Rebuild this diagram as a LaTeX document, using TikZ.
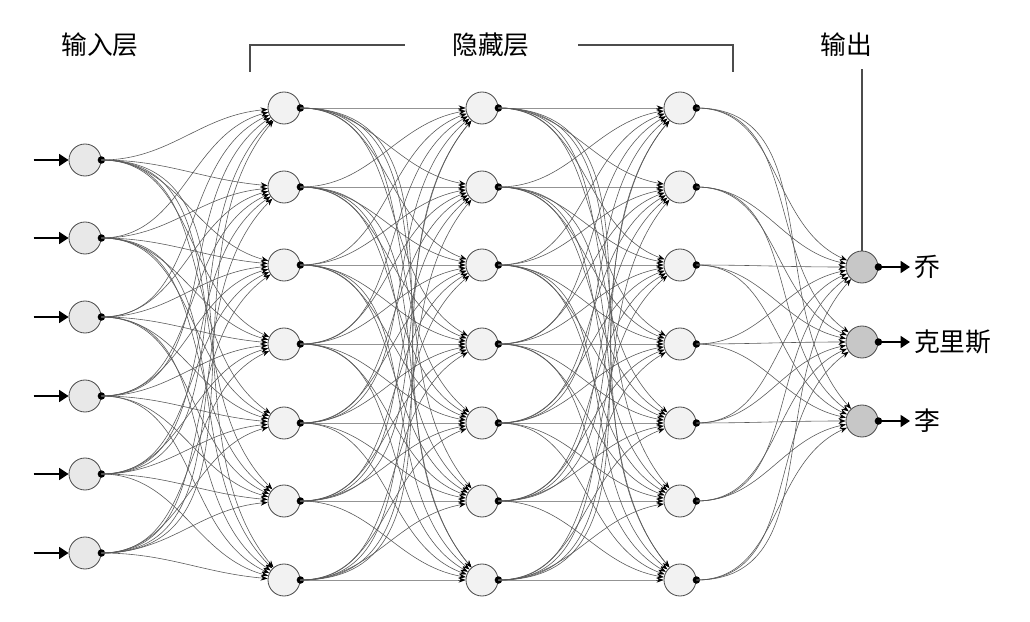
\documentclass[tikz,border=0pt]{standalone}
\usepackage{fontspec}
\newfontfamily\cjk{Noto Sans CJK SC}
\usetikzlibrary{arrows.meta}
\begin{document}
\begin{tikzpicture}[x=0.03cm,y=-0.03cm,
  neuron/.style={circle,draw=black!70,line width=0.7pt,minimum size=0.96cm,inner sep=0pt},
  inn/.style={neuron,fill=black!9},
  hid/.style={neuron,fill=black!5},
  outn/.style={neuron,fill=black!22},
  link/.style={draw=black!65,line width=0.5pt,-{Stealth[length=6pt,width=4.5pt,black]}},
  bigarrow/.style={line width=1.8pt,-{Triangle[length=8pt,width=10pt]}},
  lab/.style={font=\cjk\fontsize{22}{26}\selectfont},
  brk/.style={draw=black!70,line width=0.9pt}]
\useasboundingbox (0,0) rectangle (1030,622);
% nodes
\foreach \i/\y in {1/160,2/238,3/317,4/396,5/474,6/553}
  \node[inn] (i\i) at (85,\y) {};
\foreach \l/\x in {1/284,2/482,3/680}
  \foreach \i/\y in {1/108,2/187,3/265,4/344,5/423,6/501,7/580}
    \node[hid] (h\l\i) at (\x,\y) {};
\foreach \i/\y in {1/267,2/342,3/421}
  \node[outn] (o\i) at (862,\y) {};
% connections
\foreach \i in {1,...,6}{
  \fill (i\i.east) circle (3.2pt);
  \foreach \j in {1,...,7}{
    \pgfmathsetmacro\a{max(-50,min(50,(\j-\i-0.5)*10))}
    \draw[link] (i\i.east) to[out=0,in=180-\a] (h1\j);
  }}
\foreach \l/\m in {1/2,2/3}
  \foreach \i in {1,...,7}{
    \fill (h\l\i.east) circle (3.2pt);
    \foreach \j in {1,...,7}{
      \pgfmathsetmacro\a{max(-50,min(50,(\j-\i)*10))}
      \draw[link] (h\l\i.east) to[out=0,in=180-\a] (h\m\j);
    }}
\foreach \i in {1,...,7}{
  \fill (h3\i.east) circle (3.2pt);
  \foreach \j in {1,2,3}{
    \pgfmathsetmacro\a{max(-50,min(50,(\j+2-\i)*12))}
    \draw[link] (h3\i.east) to[out=0,in=180-\a] (o\j);
  }}
% input arrows
\foreach \i in {1,...,6}{
  \coordinate (s\i) at ([xshift=-1.05cm]i\i.west);
  \draw[bigarrow] (s\i) -- (i\i.west);
}
% output arrows and labels
\node[lab,anchor=west] (t1) at (910,267) {乔};
\node[lab,anchor=west] (t2) at (910,342) {克里斯};
\node[lab,anchor=west] (t3) at (910,421) {李};
\foreach \i in {1,2,3}{
  \fill (o\i.east) circle (3.2pt);
  \draw[bigarrow] (o\i.east) -- (t\i.west);
}
% header labels
\node[lab] (L1) at (100,45) {输入层};
\node[lab] (L2) at (491,45) {隐藏层};
\node[lab] (L3) at (846,45) {输出};
\coordinate (b1) at (250,72);
\coordinate (b2) at (250,45);
\coordinate (b3) at (733,72);
\coordinate (b4) at (733,45);
\draw[brk] (b1) -- (b2) -- (L2.west -| 405,0);
\draw[brk] (b3) -- (b4) -- (L2.east -| 578,0);
\draw[brk] (L3.south -| o1) ++(0,8) -- (o1.north);
\end{tikzpicture}
\end{document}
